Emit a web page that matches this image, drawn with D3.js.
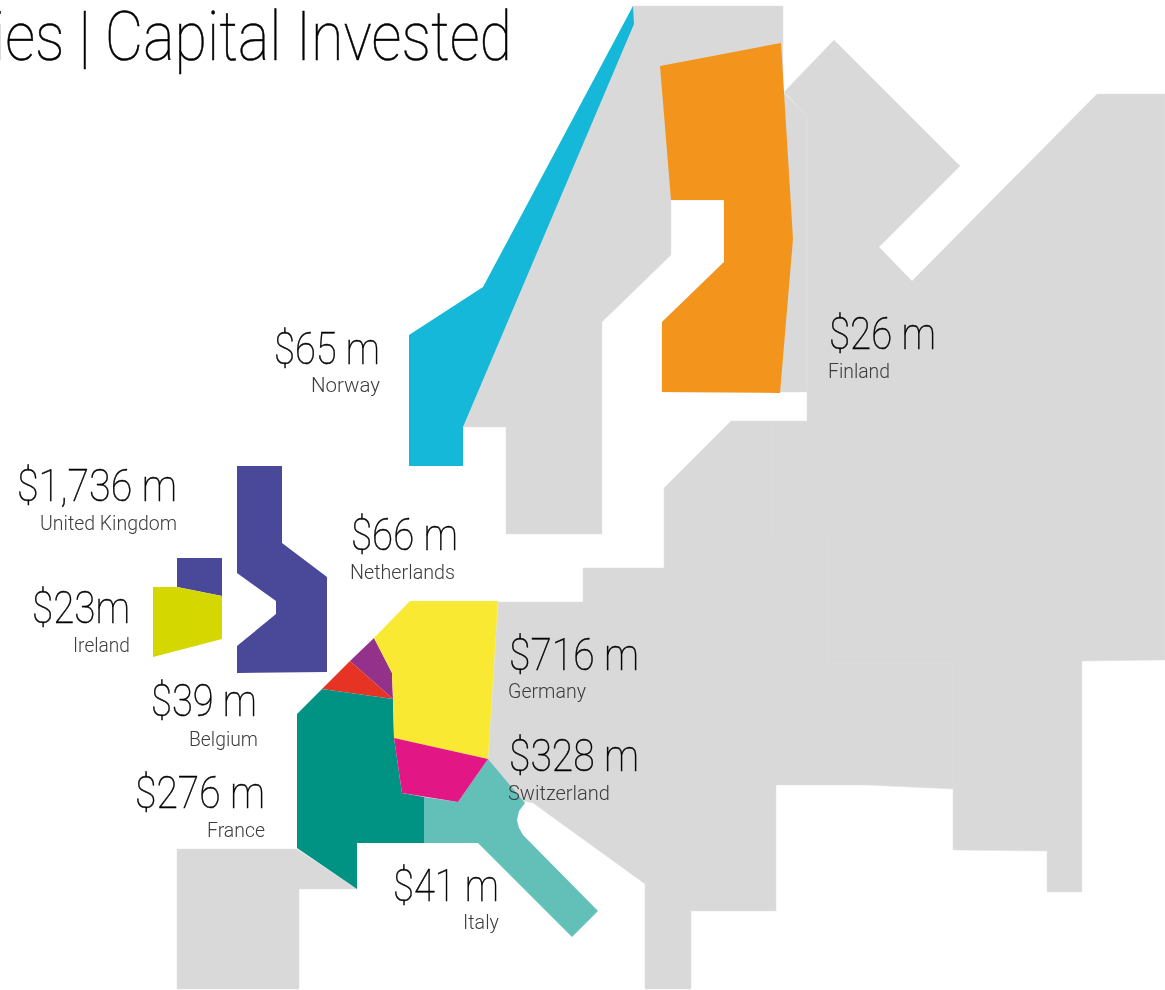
<!DOCTYPE html>
<html>
<head>
<meta charset="utf-8">
<script src="https://cdn.jsdelivr.net/npm/d3@7"></script>
<style>
  html, body { margin: 0; padding: 0; background: #fff; overflow: hidden; }
  .value { font-family: Roboto, sans-serif; font-weight: 100; fill: #000; stroke: #000; stroke-width: 0.45px; }
  .name { font-family: Roboto, sans-serif; font-weight: 300; fill: #3c3c3b; }
  .title { font-family: Roboto, sans-serif; font-weight: 100; fill: #000; stroke: #000; stroke-width: 0.5px; }
  .words { filter: grayscale(1); }
</style>
</head>
<body>
<svg width="1165" height="990"></svg>
<script>
const titleText = "ies | Capital Invested";
const countries = ["Norway", "Finland", "United Kingdom", "Ireland", "Netherlands", "Belgium", "France", "Germany", "Switzerland", "Italy"];
const capital = [65, 26, 1736, 23, 66, 39, 276, 716, 328, 41];

// map outlines, in picture pixels
const swedenShape = [[633,6],[783,6],[783,92],[807,116],[807,392],[662,392],[662,322],[724,262],[724,200],[671,200],[671,255],[602,322],[602,534],[506,534],[506,427],[463,427]];
const eastShape = [[784,92],[834,40],[960,166],[879,247],[912,281],[1097,94],[1165,94],[1165,660],[1082,661],[1082,892],[1047,892],[1047,851],[953,850],[953,789],[866,785],[776,785],[776,911],[691,911],[691,989],[645,989],[645,884],[533,803],[518,800],[488,759],[498,602],[583,602],[583,568],[664,568],[664,488],[731,421],[807,421],[807,116]];
const spainShape = [[177,849],[297,849],[357,889],[299,889],[299,989],[177,989]];
const norwayShape = [[633,6],[634,24],[463,427],[463,466],[409,466],[409,335],[483,287]];
const finlandShape = [[660,66],[781,43],[793,239],[780,393],[662,392],[662,322],[724,262],[724,200],[671,200]];
const ukShape = [[237,466],[282,466],[282,543],[327,577],[327,672],[237,673],[237,646],[276,614],[276,601],[237,573]];
const northernIrelandShape = [[177,558],[222,558],[222,596],[177,587]];
const irelandShape = [[153,587],[177,587],[222,596],[222,639],[153,657]];
const netherlandsShape = [[374,638],[392,673],[393,699],[350,661]];
const belgiumShape = [[350,661],[393,699],[322,689]];
const franceShape = [[322,689],[393,699],[394,738],[402,793],[424,797],[424,843],[357,843],[357,889],[297,848],[297,714]];
const germanyShape = [[410,601],[498,601],[488,759],[394,738],[393,699],[392,673],[374,638]];
const switzerlandShape = [[394,738],[488,759],[458,802],[402,793]];
const italyShape = [[424,797],[458,802],[488,759],[525,803],[519,811],[517,820],[519,828],[523,835],[598,911],[572,937],[478,843],[424,843]];
const borderLines = [[[828,538],[828,663],[953,663],[953,789]], [[772,421],[772,537]]];

const greyFill = "#d9d9d9";
const mapColours = {
  "United Kingdom": "#4a4899", "Ireland": "#d4d700", "Norway": "#15b8d9", "Finland": "#f3951d",
  "Netherlands": "#93318b", "Belgium": "#e63323", "France": "#009384", "Germany": "#fae933",
  "Switzerland": "#e31685", "Italy": "#62c0b9"
};

const svg = d3.select("svg");
const width = +svg.attr("width");
const height = +svg.attr("height");

const xScale = d3.scaleLinear().domain([0, 1165]).range([0, width]);
const yScale = d3.scaleLinear().domain([0, 990]).range([0, height]);
const outline = d3.line().x(d => xScale(d[0])).y(d => yScale(d[1]));
const closed = pts => outline(pts) + "Z";

const map = svg.append("g");

map.selectAll("path.land")
  .data([swedenShape, eastShape, spainShape])
  .enter()
  .append("path")
  .attr("class", "land")
  .attr("d", closed)
  .attr("fill", greyFill)
  .attr("stroke", "#e3e3e3")
  .attr("stroke-width", 0.5);

map.selectAll("path.border")
  .data(borderLines)
  .enter()
  .append("path")
  .attr("class", "border")
  .attr("d", outline)
  .attr("fill", "none")
  .attr("stroke", "#e0e0e0")
  .attr("stroke-width", 0.6);

const colouredShapes = [
  ["Norway", norwayShape], ["Finland", finlandShape], ["United Kingdom", ukShape], ["United Kingdom", northernIrelandShape],
  ["Ireland", irelandShape], ["Netherlands", netherlandsShape], ["Belgium", belgiumShape], ["France", franceShape],
  ["Italy", italyShape], ["Germany", germanyShape], ["Switzerland", switzerlandShape]
];

map.selectAll("path.country")
  .data(colouredShapes)
  .enter()
  .append("path")
  .attr("class", "country")
  .attr("d", d => closed(d[1]))
  .attr("fill", d => mapColours[d[0]]);

// label placement: anchor, value x, value baseline, value width, name x, name baseline, name width
const labelPlace = {
  "Norway": ["end", 380, 364, 106, 380, 392, 69],
  "Finland": ["start", 829, 349, 107, 828, 378, 62],
  "United Kingdom": ["end", 177, 501, 160, 177, 530, 137],
  "Ireland": ["end", 130, 623, 98, 130, 652, 57],
  "Netherlands": ["start", 351, 550, 107, 350, 579, 105],
  "Belgium": ["end", 257, 716, 106, 258, 746, 69],
  "France": ["end", 265, 808, 130, 265, 837, 58],
  "Germany": ["start", 509, 670, 130, 508, 698, 78],
  "Switzerland": ["start", 509, 771, 130, 508, 800, 102],
  "Italy": ["end", 499, 901, 106, 499, 929, 36]
};

const money = d3.format(",");
const labels = svg.append("g")
  .attr("class", "words")
  .selectAll("g")
  .data(countries.map((c, i) => ({ name: c, value: capital[i] })))
  .enter()
  .append("g");

labels.append("text")
  .attr("class", "value")
  .attr("text-anchor", d => labelPlace[d.name][0])
  .attr("x", d => labelPlace[d.name][1])
  .attr("y", d => labelPlace[d.name][2])
  .attr("font-size", 45)
  .attr("textLength", d => labelPlace[d.name][3])
  .attr("lengthAdjust", "spacingAndGlyphs")
  .text(d => "$" + money(d.value) + (d.name === "Ireland" ? "m" : " m"));

labels.append("text")
  .attr("class", "name")
  .attr("text-anchor", d => labelPlace[d.name][0])
  .attr("x", d => labelPlace[d.name][4])
  .attr("y", d => labelPlace[d.name][5])
  .attr("font-size", 21)
  .attr("textLength", d => labelPlace[d.name][6])
  .attr("lengthAdjust", "spacingAndGlyphs")
  .text(d => d.name);

svg.append("g")
  .attr("class", "words")
  .append("text")
  .attr("class", "title")
  .attr("x", -7)
  .attr("y", 60)
  .attr("font-size", 68)
  .attr("textLength", 519)
  .attr("lengthAdjust", "spacingAndGlyphs")
  .text(titleText);
</script>
</body>
</html>
